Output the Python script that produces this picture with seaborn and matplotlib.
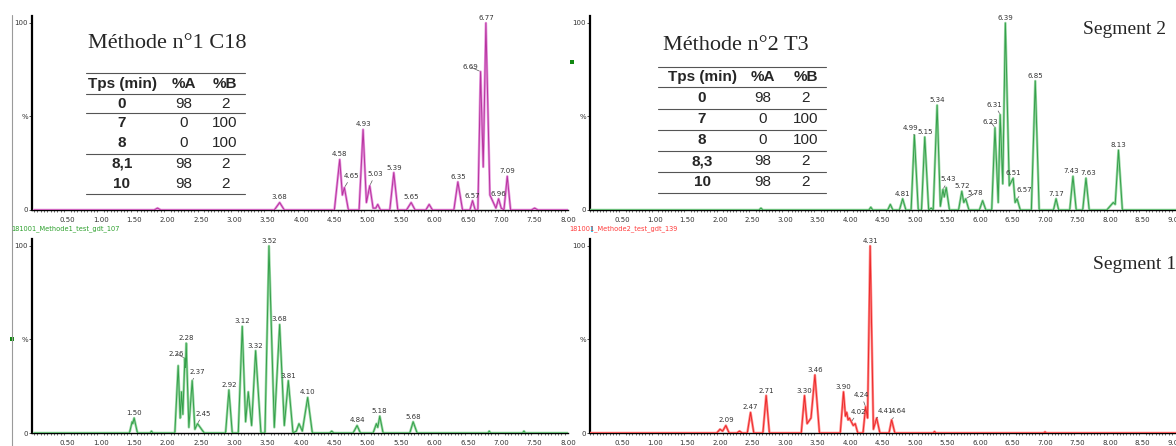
import matplotlib
matplotlib.use("Agg")
import matplotlib.pyplot as plt
import seaborn as sns
from matplotlib.lines import Line2D
from matplotlib.patches import Rectangle
from matplotlib.ticker import MultipleLocator, FormatStrFormatter

W, H = 1176, 446

# --- chromatogram traces (time in min, intensity in %) ---
# Methode 1, segment 2 (magenta)
m1s2_t = [0.00, 1.80, 1.85, 1.90, 3.60, 3.68, 3.75,
          4.50, 4.58, 4.62, 4.65, 4.71,
          4.87, 4.93, 4.98, 5.03, 5.08, 5.12, 5.15, 5.19,
          5.33, 5.39, 5.45, 5.58, 5.65, 5.71, 5.87, 5.92, 5.97,
          6.29, 6.35, 6.42, 6.53, 6.57, 6.61, 6.65, 6.69, 6.73, 6.77, 6.83,
          6.92, 6.96, 7.00, 7.04, 7.09, 7.14, 7.45, 7.50, 7.55, 8.00]
m1s2_i = [0, 0, 1, 0, 0, 4, 0,
          0, 27, 8, 12, 0,
          0, 43, 4, 13, 1, 1, 3, 0,
          0, 20, 0, 0, 4, 0, 0, 3, 0,
          0, 15, 0, 0, 5, 0, 0, 74, 23, 100, 8,
          1, 6, 1, 0, 18, 0, 0, 1, 0, 0]

# Methode 1, segment 1 (green)
m1s1_t = [0.00, 1.43, 1.47, 1.48, 1.50, 1.55, 1.74, 1.76, 1.78,
          2.11, 2.16, 2.19, 2.21, 2.23, 2.26, 2.27, 2.28, 2.32, 2.37, 2.41, 2.45, 2.55,
          2.87, 2.92, 2.97, 3.06, 3.12, 3.17, 3.21, 3.26, 3.32, 3.40,
          3.46, 3.52, 3.60, 3.68, 3.75, 3.81, 3.88,
          3.93, 3.97, 4.02, 4.10, 4.17,
          4.43, 4.46, 4.49, 4.78, 4.84, 4.89,
          5.08, 5.13, 5.15, 5.18, 5.23, 5.63, 5.68, 5.74,
          6.80, 6.82, 6.84, 7.32, 7.34, 7.36, 8.00]
m1s1_i = [0, 0, 6, 5, 8, 0, 0, 1, 0,
          0, 36, 8, 22, 10, 40, 35, 48, 3, 28, 2, 5, 0,
          0, 23, 0, 0, 57, 6, 22, 4, 44, 0,
          0, 100, 3, 58, 4, 28, 0,
          1, 5, 1, 19, 0,
          0, 1, 0, 0, 4, 0,
          0, 5, 3, 9, 0, 0, 6, 0,
          0, 1, 0, 0, 1, 0, 0]

# Methode 2, segment 2 (green)
m2s2_t = [0.00, 2.60, 2.63, 2.66, 4.29, 4.32, 4.35,
          4.58, 4.62, 4.66, 4.76, 4.81, 4.86,
          4.94, 4.99, 5.05, 5.10, 5.15, 5.21, 5.25, 5.28, 5.34, 5.39,
          5.43, 5.45, 5.48, 5.53,
          5.67, 5.72, 5.75, 5.78, 5.83, 5.99, 6.04, 6.09,
          6.18, 6.23, 6.28, 6.31, 6.35, 6.39, 6.45, 6.51, 6.54, 6.57, 6.62,
          6.79, 6.85, 6.91, 7.13, 7.17, 7.21, 7.38, 7.43, 7.48, 7.58, 7.63, 7.68,
          7.95, 8.05, 8.08, 8.13, 8.19, 9.05]
m2s2_i = [0, 0, 1, 0, 0, 1.5, 0,
          0, 3, 0, 0, 6, 0,
          0, 40, 0, 0, 39, 0, 1, 0, 56, 2,
          11, 7, 12, 0,
          0, 10, 4, 6, 0, 0, 5, 0,
          0, 44, 4, 51, 14, 100, 13, 17, 4, 6, 0,
          0, 69, 0, 0, 6, 0, 0, 18, 0, 0, 17, 0,
          0, 4, 3, 32, 0, 0]

# Methode 2, segment 1 (red)
m2s1_t = [0.00, 1.95, 2.00, 2.04, 2.09, 2.14, 2.26, 2.30, 2.34, 2.42, 2.47, 2.52,
          2.66, 2.71, 2.76, 3.25, 3.30, 3.34, 3.40, 3.46, 3.53,
          3.85, 3.90, 3.93, 3.95, 3.97, 3.99, 4.02, 4.05, 4.08, 4.12,
          4.20, 4.24, 4.27, 4.31, 4.36, 4.41, 4.46, 4.60, 4.64, 4.69,
          5.28, 5.30, 5.32, 6.98, 7.00, 7.02, 9.05]
m2s1_i = [0, 0, 2, 1, 4, 0, 0, 1, 0, 0, 11, 0,
          0, 20, 0, 0, 20, 5, 8, 31, 0,
          0, 22, 9, 11, 7, 8, 6, 4, 5, 0,
          0, 14, 8, 100, 2, 8, 0, 0, 7, 0,
          0, 0.8, 0, 0, 0.6, 0, 0]

# labelled retention times
m1s2_pk = [3.68, 4.58, 4.65, 4.93, 5.03, 5.39, 5.65, 6.35, 6.57, 6.69, 6.77, 6.96, 7.09]
m1s1_pk = [1.50, 2.26, 2.28, 2.37, 2.45, 2.92, 3.12, 3.32, 3.52, 3.68, 3.81, 4.10, 4.84, 5.18, 5.68]
m2s2_pk = [4.81, 4.99, 5.15, 5.34, 5.43, 5.72, 5.78, 6.23, 6.31, 6.39, 6.51, 6.57, 6.85,
           7.17, 7.43, 7.63, 8.13]
m2s1_pk = [2.09, 2.47, 2.71, 3.30, 3.46, 3.90, 4.02, 4.24, 4.31, 4.41, 4.64]

# gradient tables
tab_head = ["Tps (min)", "%A", "%B"]
tab1_tps = ["0", "7", "8", "8,1", "10"]
tab1_a = ["98", "0", "0", "98", "98"]
tab1_b = ["2", "100", "100", "2", "2"]
tab2_tps = ["0", "7", "8", "8,3", "10"]
tab2_a = ["98", "0", "0", "98", "98"]
tab2_b = ["2", "100", "100", "2", "2"]

# label offsets (points); entries with a leader line
shift_m1s2 = {4.65: (5, 6), 5.03: (4, 6), 6.69: (-7, 1)}
shift_m1s1 = {2.26: (-6, 1), 2.37: (4, 4), 2.45: (4, 5)}
shift_m2s2 = {4.99: (-3, 3), 5.43: (4, 5), 5.78: (7, 2), 6.23: (-3, 2), 6.31: (-4, 5), 6.57: (5, 4)}
shift_m2s1 = {4.24: (-3, 6), 4.02: (5, 5), 4.41: (6, 3), 4.64: (5, 4)}
# plain nudges (no leader line)
nudge_m2s2 = {7.43: (-1, 1.5), 7.63: (2, 1.5)}

sns.set_theme(style="white")
plt.rcParams["font.family"] = ["DejaVu Sans"]

fig = plt.figure(figsize=(W / 100, H / 100), dpi=100)


def box(x0, y0, x1, y1):
    return [x0 / W, 1 - y1 / H, (x1 - x0) / W, (y1 - y0) / H]


def fx(x):
    return x / W


def fy(y):
    return 1 - y / H


def chrom(rect, xmax, t, i, light, dark, peaks, shifts, nudges=None):
    nudges = nudges or {}
    ax = fig.add_axes(rect)
    ax.set_facecolor("none")
    # light halo + darker core, like the instrument export
    sns.lineplot(x=t, y=i, ax=ax, color=light, lw=1.8, estimator=None, sort=False, zorder=3)
    sns.lineplot(x=t, y=i, ax=ax, color=dark, lw=0.7, estimator=None, sort=False, zorder=4)
    ax.set_xlim(-0.03 if xmax < 8.5 else 0, xmax)
    ax.set_ylim(0, 104)
    for s in ["top", "right"]:
        ax.spines[s].set_visible(False)
    ax.spines["left"].set_linewidth(1.6)
    ax.spines["bottom"].set_linewidth(1.0)
    ax.spines["left"].set_color("black")
    ax.spines["bottom"].set_color("black")
    ax.xaxis.set_major_locator(MultipleLocator(0.5))
    ax.xaxis.set_minor_locator(MultipleLocator(0.05))
    ax.xaxis.set_major_formatter(FormatStrFormatter("%.2f"))
    xt = [v for v in ax.get_xticks() if 0.4 < v < xmax + 0.05]
    ax.set_xticks(xt)
    ax.set_yticks([0, 50, 100])
    ax.set_yticklabels(["0", "%", "100"])
    ax.tick_params(axis="x", which="major", direction="out", length=3, width=0.6,
                   labelsize=5, pad=2, colors="#333333")
    ax.tick_params(axis="x", which="minor", direction="out", length=1.5, width=0.5,
                   colors="#333333", bottom=True)
    ax.tick_params(axis="y", direction="out", length=2, width=0.6, labelsize=5, pad=1,
                   colors="#333333", left=True)
    ax.set_xlabel("")
    ax.set_ylabel("")
    for p in peaks:
        h = i[t.index(p)]
        if p in shifts:
            dx, dy = shifts[p]
            ax.annotate(f"{p:.2f}", (p, h), xytext=(dx, dy), textcoords="offset points",
                        ha="center", va="bottom", fontsize=5, color="#333333", zorder=6,
                        arrowprops=dict(arrowstyle="-", lw=0.5, color="#555555",
                                        shrinkA=0, shrinkB=1))
        else:
            dx, dy = nudges.get(p, (0, 1.5))
            ax.annotate(f"{p:.2f}", (p, h), xytext=(dx, dy), textcoords="offset points",
                        ha="center", va="bottom", fontsize=5, color="#333333", zorder=6)
    return ax


chrom(box(32, 15.5, 568, 210), 8.0, m1s2_t, m1s2_i, "#e596dc", "#b8329f",
      m1s2_pk, shift_m1s2)
chrom(box(32, 238.5, 568, 433), 8.0, m1s1_t, m1s1_i, "#9bd8a5", "#34a04a",
      m1s1_pk, shift_m1s1)
chrom(box(590, 15.5, 1176, 210), 9.015, m2s2_t, m2s2_i, "#9bd8a5", "#34a04a",
      m2s2_pk, shift_m2s2, nudge_m2s2)
chrom(box(590, 238.5, 1176, 433), 9.015, m2s1_t, m2s1_i, "#ff8a8a", "#ec2a2a",
      m2s1_pk, shift_m2s1)

# trace names between panels
fig.text(fx(11), fy(229), "181001_Methode1_test_gdt_107", fontsize=4.8, color="#2ca02c",
         va="center", ha="left")
fig.text(fx(569), fy(229), "181001_Methode2_test_gdt_139", fontsize=4.8, color="#ff3b3b",
         va="center", ha="left")
fig.add_artist(Rectangle((fx(591), fy(232)), 1.5 / W, 6 / H, transform=fig.transFigure,
                         color="#33ccee", lw=0))

# small markers and window border
fig.add_artist(Rectangle((fx(10), fy(341)), 4 / W, 4 / H, transform=fig.transFigure,
                         color="#118811", lw=0))
fig.add_artist(Rectangle((fx(570), fy(64)), 4 / W, 4 / H, transform=fig.transFigure,
                         color="#118811", lw=0))
fig.add_artist(Line2D([fx(12), fx(12)], [fy(15), fy(446)], transform=fig.transFigure,
                      color="#9a9a9a", lw=0.8))

# titles
serif = ["Liberation Serif", "DejaVu Serif"]
fig.text(fx(88), fy(48), "Méthode n°1 C18", family=serif, fontsize=16, va="baseline")
fig.text(fx(663), fy(50), "Méthode n°2 T3", family=serif, fontsize=16, va="baseline")
fig.text(fx(1083), fy(34), "Segment 2", family=serif, fontsize=14, va="baseline")
fig.text(fx(1093), fy(269), "Segment 1", family=serif, fontsize=14, va="baseline")


def table(cols_x, x0, x1, row_y, rules_y, tps, a, b):
    sans = ["Liberation Sans", "DejaVu Sans"]
    for y in rules_y:
        fig.add_artist(Line2D([fx(x0), fx(x1)], [fy(y), fy(y)], transform=fig.transFigure,
                              color="#555555", lw=0.8))
    for cx, h in zip(cols_x, tab_head):
        fig.text(fx(cx), fy(row_y[0]), h, family=sans, fontsize=11, fontweight="bold",
                 ha="center", va="center")
    for k in range(len(tps)):
        y = fy(row_y[k + 1])
        fig.text(fx(cols_x[0]), y, tps[k], family=sans, fontsize=11, fontweight="bold",
                 ha="center", va="center")
        fig.text(fx(cols_x[1]), y, a[k], family=sans, fontsize=11, ha="center", va="center")
        fig.text(fx(cols_x[2]), y, b[k], family=sans, fontsize=11, ha="center", va="center")


table([122, 184, 225], 86, 245, [84, 104, 123, 143, 164, 184], [73, 94, 113, 154, 194],
      tab1_tps, tab1_a, tab1_b)
table([702, 763, 806], 658, 826, [77, 98, 119, 140, 161, 182], [67, 87, 109, 130, 151, 172, 193],
      tab2_tps, tab2_a, tab2_b)

fig.savefig("out.png", dpi=100)
